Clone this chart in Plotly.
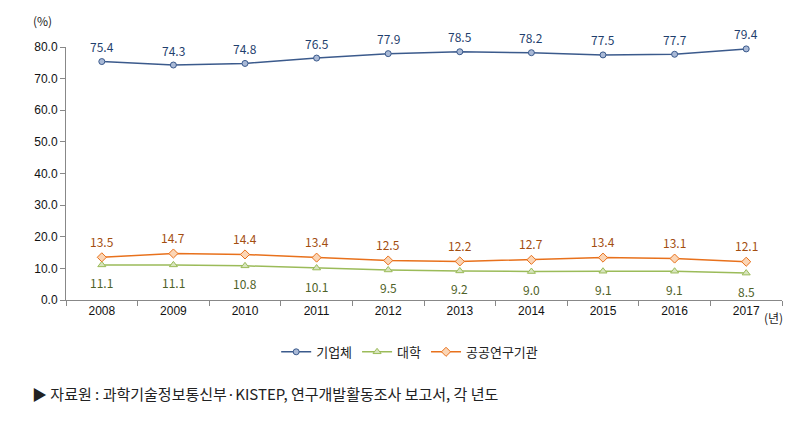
import plotly.graph_objects as go

years = ["2008", "2009", "2010", "2011", "2012", "2013", "2014", "2015", "2016", "2017"]
company = [75.4, 74.3, 74.8, 76.5, 77.9, 78.5, 78.2, 77.5, 77.7, 79.4]
university = [11.1, 11.1, 10.8, 10.1, 9.5, 9.2, 9.0, 9.1, 9.1, 8.5]
public_inst = [13.5, 14.7, 14.4, 13.4, 12.5, 12.2, 12.7, 13.4, 13.1, 12.1]
series_names = ["기업체", "대학", "공공연구기관"]
y_ticks = [0, 10, 20, 30, 40, 50, 60, 70, 80]

FONT = "Noto Sans CJK KR"

series = [
    (company, series_names[0], "#3B5A8C", "#A9B9D6", "circle", 6, "#1F3F6E", -15),
    (university, series_names[1], "#9BBB59", "#D7E4BD", "triangle-up", 7, "#4F6228", 18),
    (public_inst, series_names[2], "#E8711C", "#FBD5B5", "diamond", 7, "#A34E10", -16),
]

fig = go.Figure()
for vals, name, lc, fc, sym, sz, tc, shift in series:
    fig.add_trace(go.Scatter(
        x=years, y=vals, name=name, mode="lines+markers",
        line=dict(color=lc, width=1.5), cliponaxis=False,
        marker=dict(symbol=sym, size=sz, color=fc, line=dict(color=lc, width=1)),
    ))
    for i, yv in enumerate(vals):
        fig.add_annotation(x=i, y=yv, xref="x", yref="y", text=f"{yv:.1f}", showarrow=False,
                           yshift=-shift, xanchor="center", yanchor="middle",
                           font=dict(color=tc, size=12, family=FONT))

fig.update_layout(
    width=785, height=415,
    margin=dict(l=58, r=11, t=39, b=123, autoexpand=False),
    paper_bgcolor="white", plot_bgcolor="white",
    font=dict(family=FONT, size=12, color="#222222"),
    showlegend=True,
    legend=dict(orientation="h", x=0.48, xanchor="center", y=-0.205, yanchor="middle",
                font=dict(size=13, family=FONT, color="#222222"),
                traceorder="normal"),
    xaxis=dict(type="category", categoryorder="array", categoryarray=years,
               range=[-0.5, 9.5], showline=True, linecolor="#888888",
               linewidth=1, ticks="outside", tickson="boundaries", ticklen=5,
               tickcolor="#888888", showgrid=False, zeroline=False,
               tickfont=dict(size=12, color="#111111", family="Liberation Sans"),
               fixedrange=True),
    yaxis=dict(range=[0, 80], tickvals=y_ticks, ticktext=[f"{v:.1f}" for v in y_ticks],
               showline=True, linecolor="#888888", linewidth=1, ticks="outside",
               ticklen=5, tickcolor="#888888", showgrid=False, zeroline=False,
               tickfont=dict(size=12, color="#111111", family="Liberation Sans"),
               fixedrange=True),
)

fig.add_annotation(text="(%)", xref="paper", yref="paper", x=-0.033, y=1.104,
                   xanchor="center", yanchor="middle", showarrow=False,
                   font=dict(size=12, color="#222222", family=FONT))
fig.add_annotation(text="(년)", xref="paper", yref="paper", x=0.988, y=-0.071,
                   xanchor="center", yanchor="middle", showarrow=False,
                   font=dict(size=12, color="#222222", family=FONT))
fig.add_annotation(text="▶ 자료원 : 과학기술정보통신부·KISTEP, 연구개발활동조사 보고서, 각 년도",
                   xref="paper", yref="paper", x=-0.05, y=-0.368,
                   xanchor="left", yanchor="middle", showarrow=False,
                   font=dict(size=15, color="#222222", family=FONT))

fig.write_html("out.html")
